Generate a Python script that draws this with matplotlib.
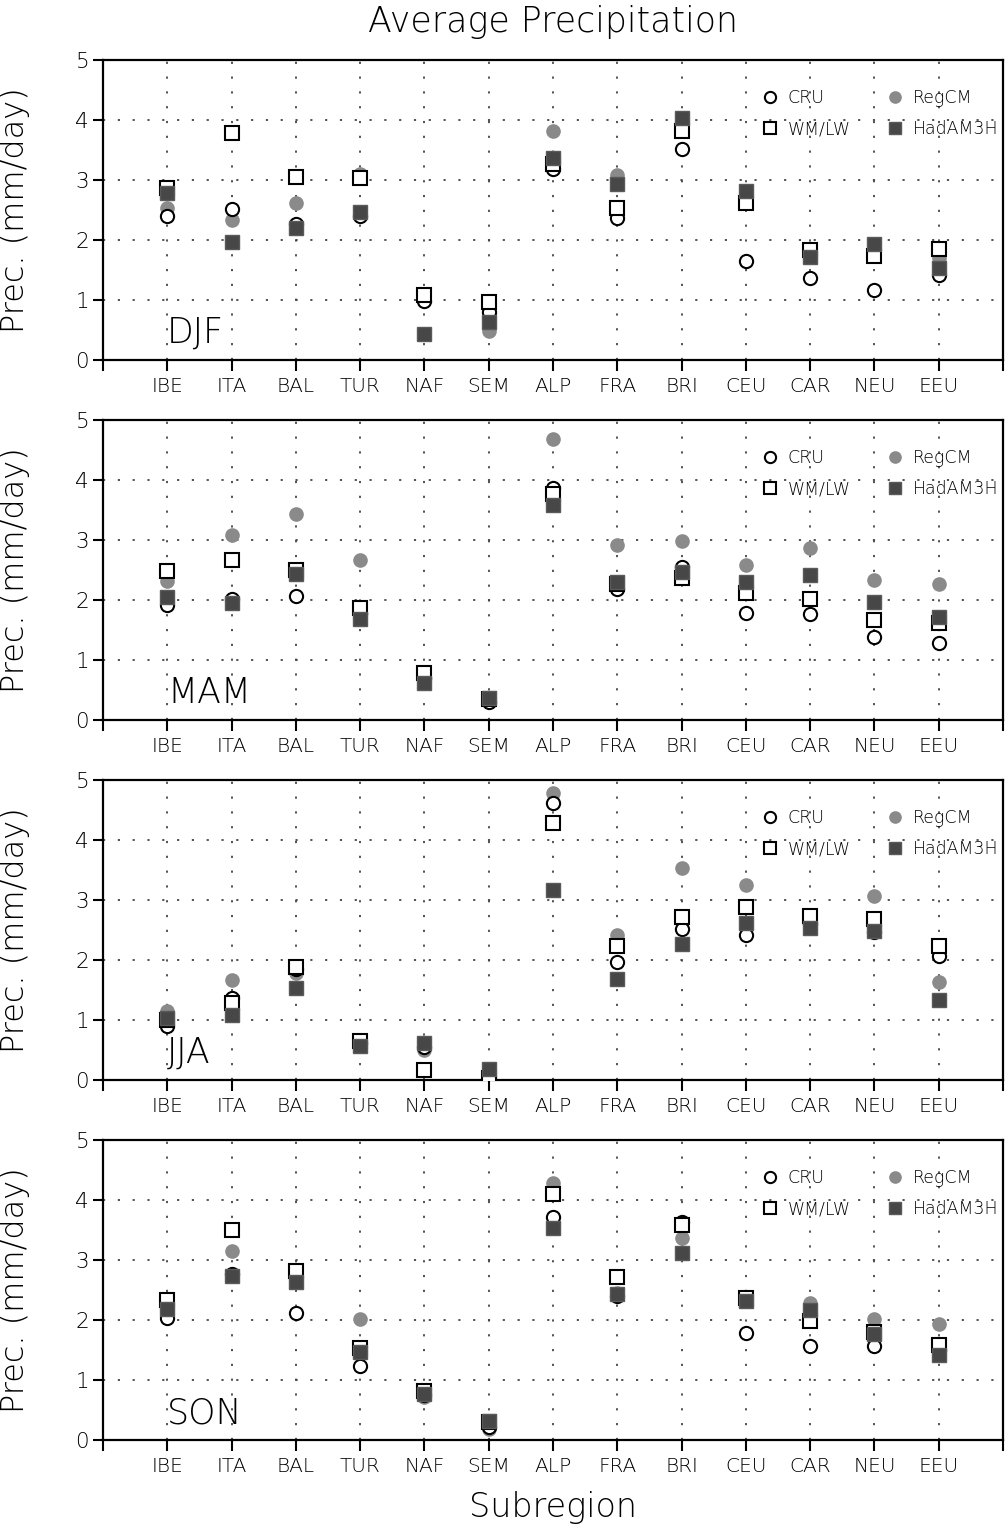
import matplotlib
matplotlib.use("Agg")
import matplotlib.pyplot as plt
import numpy as np

regions = ["IBE", "ITA", "BAL", "TUR", "NAF", "SEM", "ALP", "FRA", "BRI", "CEU", "CAR", "NEU", "EEU"]
seasons = ["DJF", "MAM", "JJA", "SON"]

# DJF
cru_djf = [2.40, 2.51, 2.26, 2.40, 0.98, 0.80, 3.19, 2.36, 3.51, 1.65, 1.37, 1.17, 1.41]
regcm_djf = [2.53, 2.34, 2.61, 3.10, 0.44, 0.49, 3.82, 3.09, 4.00, 2.75, 1.75, 1.85, 1.70]
wmlw_djf = [2.86, 3.79, 3.05, 3.04, 1.09, 0.96, 3.27, 2.54, 3.82, 2.62, 1.83, 1.74, 1.85]
had_djf = [2.78, 1.96, 2.20, 2.47, 0.44, 0.64, 3.36, 2.93, 4.04, 2.82, 1.71, 1.94, 1.54]

# MAM
cru_mam = [1.91, 2.02, 2.06, 1.78, 0.70, 0.30, 3.87, 2.19, 2.55, 1.78, 1.76, 1.39, 1.29]
regcm_mam = [2.32, 3.08, 3.44, 2.67, 0.65, 0.35, 4.68, 2.92, 2.99, 2.58, 2.87, 2.34, 2.27]
wmlw_mam = [2.49, 2.67, 2.50, 1.86, 0.78, 0.35, 3.76, 2.27, 2.36, 2.11, 2.02, 1.67, 1.61]
had_mam = [2.05, 1.95, 2.44, 1.69, 0.62, 0.37, 3.58, 2.30, 2.46, 2.30, 2.42, 1.96, 1.72]

# JJA
cru_jja = [0.90, 1.37, 1.85, 0.62, 0.55, 0.05, 4.62, 1.96, 2.51, 2.42, 2.60, 2.46, 2.07]
regcm_jja = [1.15, 1.67, 1.78, 0.60, 0.50, 0.10, 4.78, 2.42, 3.53, 3.25, 2.62, 3.07, 1.63]
wmlw_jja = [1.00, 1.28, 1.88, 0.65, 0.16, 0.04, 4.29, 2.24, 2.72, 2.89, 2.73, 2.69, 2.23]
had_jja = [1.04, 1.08, 1.53, 0.57, 0.61, 0.19, 3.16, 1.69, 2.26, 2.62, 2.53, 2.49, 1.34]

# SON
cru_son = [2.04, 2.77, 2.12, 1.23, 0.75, 0.22, 3.72, 2.40, 3.64, 1.79, 1.56, 1.57, 1.50]
regcm_son = [2.15, 3.15, 2.70, 2.02, 0.71, 0.18, 4.29, 2.45, 3.37, 2.35, 2.28, 2.01, 1.93]
wmlw_son = [2.33, 3.50, 2.82, 1.54, 0.82, 0.30, 4.10, 2.72, 3.59, 2.37, 1.98, 1.80, 1.59]
had_son = [2.18, 2.74, 2.64, 1.47, 0.77, 0.31, 3.53, 2.44, 3.12, 2.31, 2.16, 1.77, 1.41]

data = {
    "DJF": (cru_djf, regcm_djf, wmlw_djf, had_djf),
    "MAM": (cru_mam, regcm_mam, wmlw_mam, had_mam),
    "JJA": (cru_jja, regcm_jja, wmlw_jja, had_jja),
    "SON": (cru_son, regcm_son, wmlw_son, had_son),
}

plt.rcParams["font.family"] = ["DejaVu Sans"]
plt.rcParams["font.weight"] = "light"
plt.rcParams["axes.labelweight"] = "light"

W, H = 1008, 1528
fig = plt.figure(figsize=(W / 100, H / 100), dpi=100)

left_px, right_px = 103, 1003
tops_px = [60, 420, 780, 1140]
ph = 300

x = np.arange(1, len(regions) + 1)
grid_kw = dict(color="#444444", linestyle=(0, (1.2, 7)), linewidth=1.3, zorder=1)

for i, s in enumerate(seasons):
    top = tops_px[i]
    ax = fig.add_axes([left_px / W, 1 - (top + ph) / H, (right_px - left_px) / W, ph / H])
    cru, regcm, wmlw, had = data[s]
    ax.set_xlim(0, 14)
    ax.set_ylim(0, 5)
    for xv in x:
        ax.axvline(xv, **grid_kw)
    for yv in range(1, 5):
        ax.axhline(yv, **grid_kw)

    ax.plot(x, regcm, linestyle="none", marker="o", markersize=9.5,
            markerfacecolor="#8a8a8a", markeredgecolor="#8a8a8a", zorder=3, label="RegCM")
    ax.plot(x, cru, linestyle="none", marker="o", markersize=9.5, markeredgewidth=1.5,
            markerfacecolor="white", markeredgecolor="black", zorder=4, label="CRU")
    ax.plot(x, wmlw, linestyle="none", marker="s", markersize=9.5, markeredgewidth=1.5,
            markerfacecolor="white", markeredgecolor="black", zorder=5, label="WM/LW")
    ax.plot(x, had, linestyle="none", marker="s", markersize=9.5, markeredgewidth=1.0,
            markerfacecolor="#474747", markeredgecolor="#5a5a5a", zorder=6, label="HadAM3H")

    ax.set_xticks(range(0, 15))
    ax.set_xticklabels([""] + regions + [""], fontsize=14.5)
    ax.set_yticks(range(0, 6))
    ax.set_yticklabels([str(v) for v in range(0, 6)], fontsize=15.5)
    ax.tick_params(axis="x", direction="out", length=8, width=1.5, pad=4)
    ax.tick_params(axis="y", direction="out", length=7, width=1.5, pad=3)
    for sp in ax.spines.values():
        sp.set_linewidth(1.6)

    ax.set_ylabel("Prec. (mm/day)", fontsize=23, fontweight="light")
    ax.yaxis.set_label_coords((30 - left_px) / (right_px - left_px), 0.5)

    ax.text((167 - left_px) / (right_px - left_px), (ph - 343 + 60) / ph, s,
            transform=ax.transAxes, fontsize=25, va="baseline", ha="left")

    h, l = ax.get_legend_handles_labels()
    order = [l.index("CRU"), l.index("WM/LW"), l.index("RegCM"), l.index("HadAM3H")]
    ax.legend([h[k] for k in order], [l[k] for k in order], ncol=2,
              loc="upper left", bbox_to_anchor=((763 - left_px) / (right_px - left_px), 0.902),
              frameon=False, fontsize=12.5, handlelength=0.8, handletextpad=0.6,
              columnspacing=2.2, labelspacing=0.75, borderpad=0, borderaxespad=0,
              markerscale=0.85)

fig.text(553 / W, 1 - 22 / H, "Average Precipitation", fontsize=25, ha="center", va="center")
fig.text(553 / W, 1 - 1508 / H, "Subregion", fontsize=24, ha="center", va="center")

fig.savefig("out.png", dpi=100)
